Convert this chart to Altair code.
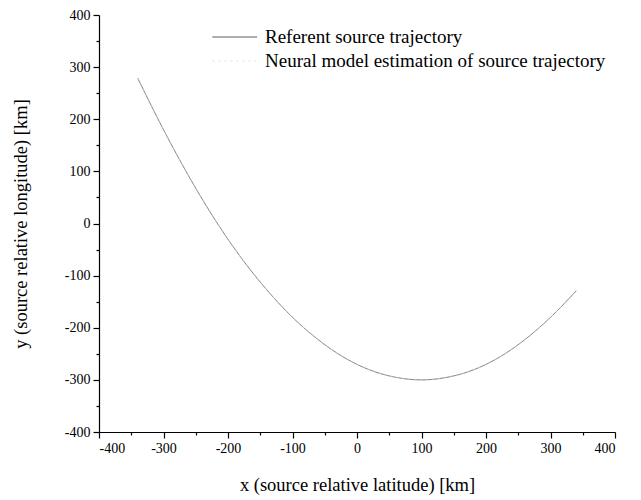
import altair as alt
import pandas as pd

# values (km)
x_km = [-340, -300, -260, -220, -180, -140, -100, -60, -20, 20, 60, 100, 140, 180, 220, 260, 300, 340]
ref_y = [279, 180, 89, 7, -65, -127, -180, -223, -257, -281, -295, -300, -295, -281, -257, -223, -180, -129]
est_y = [279, 180, 89, 7, -65, -127, -180, -223, -257, -281, -295, -300, -295, -281, -257, -223, -180, -129]

series_names = ["Referent source trajectory", "Neural model estimation of source trajectory"]
major_ticks = [-400, -300, -200, -100, 0, 100, 200, 300, 400]
minor_ticks = [-350, -250, -150, -50, 50, 150, 250, 350]

rows = []
for xv, yv in zip(x_km, ref_y):
    rows.append({"series": series_names[0], "x": xv, "y": yv})
for xv, yv in zip(x_km, est_y):
    rows.append({"series": series_names[1], "x": xv, "y": yv})
df = pd.DataFrame(rows)

FONT = "Liberation Serif"
xs = alt.Scale(domain=[-400, 400], nice=False, zero=False)
ys = alt.Scale(domain=[-400, 400], nice=False, zero=False)
hyphen = "datum.value < 0 ? '-' + abs(datum.value) : '' + datum.value"

color = alt.Color(
    "series:N",
    scale=alt.Scale(domain=series_names, range=["#222222", "#d8d8d8"]),
    legend=alt.Legend(
        title=None, orient="none", legendX=143, legendY=12.5,
        symbolType="M-7,0H1", symbolSize=125, symbolStrokeWidth=0.8,
        labelFont=FONT, labelFontSize=19, labelColor="#000", labelLimit=0,
        labelOffset=4, rowPadding=4, padding=0,
    ),
)
dash = alt.StrokeDash(
    "series:N",
    scale=alt.Scale(domain=series_names, range=[[1, 0], [2, 4]]),
    legend=None,
)

base = alt.Chart(df)

main = base.mark_line(strokeWidth=0.6, interpolate="monotone").encode(
    x=alt.X("x:Q", scale=xs, axis=alt.Axis(
        values=major_ticks, title="x (source relative latitude) [km]",
        tickSize=6, labelPadding=3, titleY=52, titleBaseline="middle",
        orient="bottom", labelExpr=hyphen)),
    y=alt.Y("y:Q", scale=ys, axis=alt.Axis(
        values=major_ticks, title="y (source relative longitude) [km]",
        tickSize=6, labelPadding=3, titleX=-79, titleBaseline="middle",
        orient="left", labelExpr=hyphen)),
    color=color,
    strokeDash=dash,
)

minor = base.transform_filter(alt.datum.series == series_names[1]).mark_line(
    strokeWidth=0.7, opacity=0
).encode(
    x=alt.X("x:Q", scale=xs, axis=alt.Axis(
        values=minor_ticks, labels=False, title=None, tickSize=3,
        domain=False, orient="bottom")),
    y=alt.Y("y:Q", scale=ys, axis=alt.Axis(
        values=minor_ticks, labels=False, title=None, tickSize=3,
        domain=False, orient="left")),
)

chart = alt.layer(main, minor).resolve_axis(x="independent", y="independent").properties(
    width=516, height=417,
    autosize=alt.AutoSizeParams(type="none"),
    padding={"left": 99, "top": 15, "right": 26, "bottom": 68},
    background="white",
).configure_view(stroke=None).configure_axis(
    grid=False, domainColor="#000", tickColor="#000", domainWidth=1.2, tickWidth=1.2,
    labelFont=FONT, labelFontSize=14, labelColor="#000",
    titleFont=FONT, titleFontSize=18.5, titleFontWeight="normal", titleColor="#000",
)

chart.save("out.html", embed_options={"renderer": "svg", "actions": False})
